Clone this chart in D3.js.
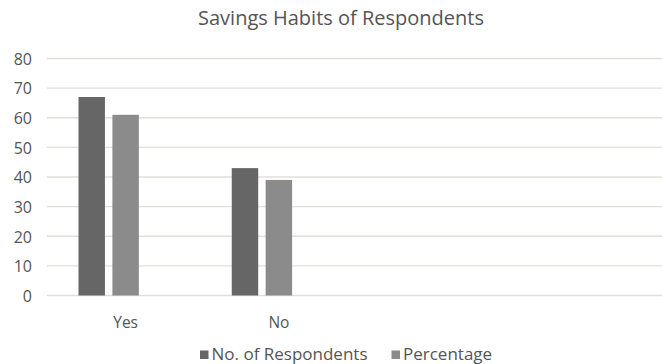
<!DOCTYPE html>
<html>
<head>
<meta charset="utf-8">
<script src="https://cdn.jsdelivr.net/npm/d3@7"></script>
<style>
  html, body { margin: 0; padding: 0; background: #ffffff; }
  svg { display: block; font-family: "Open Sans", "Liberation Sans", sans-serif; }
</style>
</head>
<body>
<svg id="chart" width="662" height="364"></svg>
<script>
// Chart data
const categories = ["Yes", "No", "", ""];
const seriesNames = ["No. of Respondents", "Percentage"];
const respondents = [67, 43, null, null];
const percentage = [61, 39, null, null];
const yTicks = [0, 10, 20, 30, 40, 50, 60, 70, 80];
const titleText = "Savings Habits of Respondents";

const colors = ["#666666", "#8b8b8b"];
const textColor = "#555555";
const gridColor = "#e2dedb";

const svg = d3.select("#chart");
const plot = { left: 49, right: 662, top: 58.5, bottom: 295.5 };

const x = d3.scaleBand()
  .domain(d3.range(categories.length))
  .range([plot.left, plot.right])
  .paddingInner(0)
  .paddingOuter(0);

// Each cluster reserves three column slots; only the first two carry data.
const slots = [0, 1, 2];
const x1 = d3.scaleBand()
  .domain(slots)
  .range([0, x.bandwidth()])
  .paddingInner(0.22)
  .paddingOuter(0.87);

const y = d3.scaleLinear()
  .domain([0, 80])
  .range([plot.bottom, plot.top]);

// Gridlines
svg.append("g")
  .selectAll("line")
  .data(yTicks)
  .join("line")
  .attr("x1", plot.left - 2)
  .attr("x2", plot.right)
  .attr("y1", d => y(d))
  .attr("y2", d => y(d))
  .attr("stroke", gridColor)
  .attr("stroke-width", 1.4);

// Y axis labels
const yAxis = d3.axisLeft(y).tickValues(yTicks).tickSize(0).tickPadding(0);
const yg = svg.append("g")
  .attr("transform", "translate(32,0)")
  .call(yAxis);
yg.select(".domain").remove();
yg.selectAll("text")
  .attr("fill", textColor)
  .attr("font-size", 16)
  .attr("font-family", "'Open Sans', sans-serif")
  .attr("dy", "0.36em");

// Bars
const seriesValues = [respondents, percentage];
seriesValues.forEach((vals, si) => {
  svg.append("g")
    .selectAll("rect")
    .data(vals.map((v, i) => ({ v, i })).filter(d => d.v != null))
    .join("rect")
    .attr("x", d => x(d.i) + x1(slots[si]))
    .attr("width", x1.bandwidth())
    .attr("y", d => y(d.v))
    .attr("height", d => y(0) - y(d.v))
    .attr("fill", colors[si]);
});

// Category labels
const xAxis = d3.axisBottom(x).tickFormat(i => categories[i]).tickSize(0).tickPadding(0);
const xg = svg.append("g")
  .attr("transform", "translate(0,316)")
  .call(xAxis);
xg.select(".domain").remove();
xg.selectAll("text")
  .attr("fill", textColor)
  .attr("font-size", 15.5)
  .attr("font-family", "'Open Sans', sans-serif")
  .attr("dy", "0.76em");

// Title
svg.append("text")
  .attr("x", 341)
  .attr("y", 25)
  .attr("text-anchor", "middle")
  .attr("fill", textColor)
  .attr("font-size", 20)
  .text(titleText);

// Legend
const legend = svg.append("g").attr("transform", "translate(200,0)");
let lx = 0;
seriesNames.forEach((name, i) => {
  const g = legend.append("g").attr("transform", `translate(${lx},0)`);
  g.append("rect")
    .attr("x", 0).attr("y", 350.5)
    .attr("width", 8.5).attr("height", 8.5)
    .attr("fill", colors[i]);
  const t = g.append("text")
    .attr("x", 11.5).attr("y", 360)
    .attr("fill", textColor)
    .attr("font-size", 17)
    .text(name);
  lx += 11.5 + t.node().getComputedTextLength() + 24;
});
</script>
</body>
</html>
